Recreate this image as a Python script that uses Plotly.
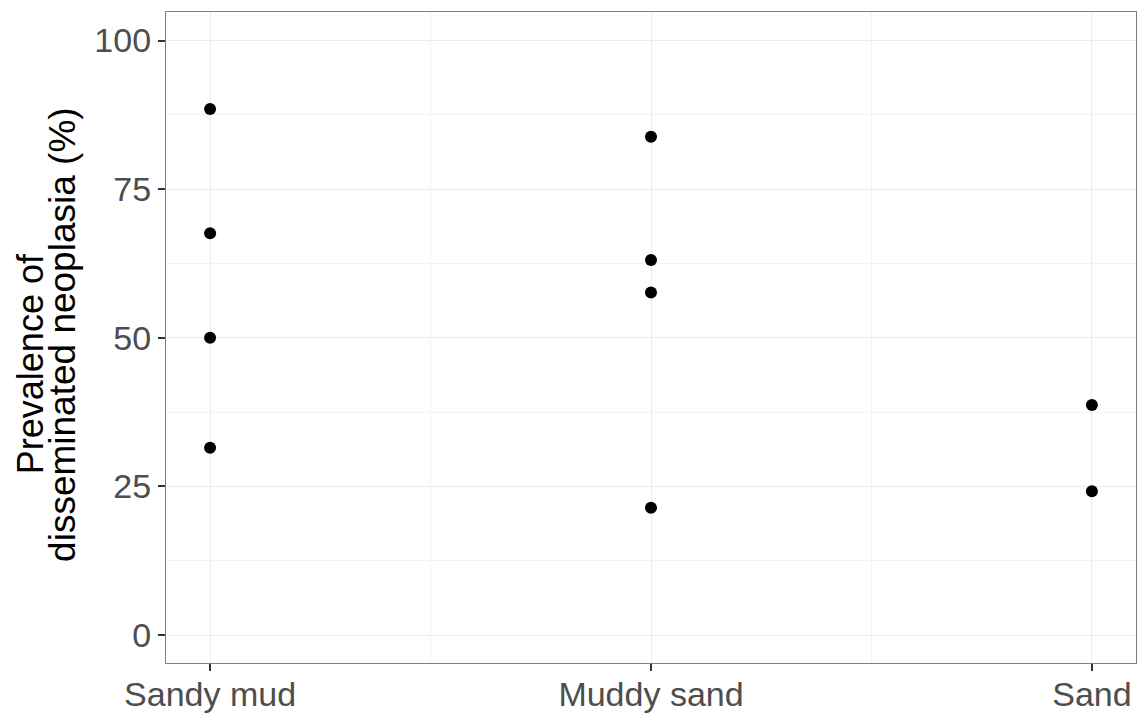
import plotly.graph_objects as go

categories = ["Sandy mud", "Muddy sand", "Sand"]
sandy_mud = [88.5, 67.6, 50.0, 31.5]
muddy_sand = [83.8, 63.1, 57.6, 21.4]
sand = [38.7, 24.2]
y_ticks = [0, 25, 50, 75, 100]
y_title_1 = "Prevalence of"
y_title_2 = "disseminated neoplasia (%)"

groups = [sandy_mud, muddy_sand, sand]
xs, ys = [], []
for i, vals in enumerate(groups):
    for v in vals:
        xs.append(i + 1)
        ys.append(v)

fig = go.Figure()
fig.add_trace(go.Scatter(
    x=xs, y=ys, mode="markers",
    marker=dict(color="black", size=12, line=dict(width=0)),
    showlegend=False, hoverinfo="skip"))

FONT = "Liberation Sans, Arial, sans-serif"
fig.update_layout(
    width=1142, height=716,
    margin=dict(l=166, r=6, t=12, b=53),
    paper_bgcolor="white", plot_bgcolor="white",
    font=dict(family=FONT),
    xaxis=dict(
        range=[0.9, 3.1], automargin=False,
        tickvals=[1, 2, 3], ticktext=categories,
        showgrid=True, gridcolor="#EBEBEB", gridwidth=1.2,
        minor=dict(tickvals=[1.5, 2.5], showgrid=True, gridcolor="#F3F3F3", gridwidth=0.8),
        zeroline=False,
        showline=True, linecolor="#7F7F7F", linewidth=1.2, mirror=True,
        ticks="outside", ticklen=7, tickwidth=1.5, tickcolor="#333333",
        ticklabelstandoff=-6,
        tickfont=dict(family=FONT, size=34, color="#4D4D4D"),
    ),
    yaxis=dict(
        range=[-4.7, 104.8], automargin=False,
        tickvals=y_ticks,
        showgrid=True, gridcolor="#EBEBEB", gridwidth=1.2,
        minor=dict(tickvals=[12.5, 37.5, 62.5, 87.5], showgrid=True, gridcolor="#F3F3F3", gridwidth=0.8),
        zeroline=False,
        showline=True, linecolor="#7F7F7F", linewidth=1.2, mirror=True,
        ticks="outside", ticklen=7, tickwidth=1.5, tickcolor="#333333",
        ticklabelstandoff=0,
        tickfont=dict(family=FONT, size=34, color="#4D4D4D"),
    ),
    annotations=[
        dict(text=y_title_1, textangle=-90, xref="paper", yref="paper",
             x=0, y=0.459, xanchor="center", yanchor="middle", xshift=-136,
             showarrow=False, font=dict(family=FONT, size=36, color="black")),
        dict(text=y_title_2, textangle=-90, xref="paper", yref="paper",
             x=0, y=0.504, xanchor="center", yanchor="middle", xshift=-103,
             showarrow=False, font=dict(family=FONT, size=37, color="black")),
    ],
)

fig.write_html(
    "out.html",
    config={"displayModeBar": False},
    post_script="document.body.style.margin='0';document.body.style.overflow='hidden';",
)
